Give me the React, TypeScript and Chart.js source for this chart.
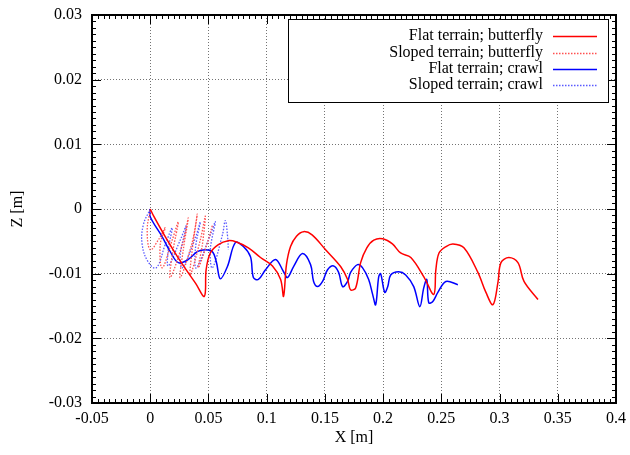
import React, { useEffect, useRef } from "react";
import { Chart, registerables } from "chart.js";

Chart.register(...registerables);

// Flat terrain; butterfly  [x (m), z (m)]
const flatButterflyX = [0, 0.003, 0.013, 0.026, 0.039, 0.0465, 0.048, 0.0516, 0.0585, 0.067, 0.074, 0.0843, 0.0947, 0.105, 0.112, 0.1145, 0.117, 0.1205, 0.1256, 0.1317, 0.139, 0.1506, 0.1635, 0.1695, 0.172, 0.1764, 0.1807, 0.186, 0.192, 0.1997, 0.208, 0.215, 0.2238, 0.235, 0.2435, 0.2453, 0.248, 0.254, 0.26, 0.2694, 0.2814, 0.2883, 0.2943, 0.2986, 0.3012, 0.308, 0.3158, 0.321, 0.333];
const flatButterflyZ = [0, -0.0011, -0.0043, -0.0081, -0.0115, -0.0135, -0.0094, -0.0068, -0.0055, -0.0049, -0.0051, -0.006, -0.0075, -0.0088, -0.0109, -0.0135, -0.0086, -0.0058, -0.0042, -0.0035, -0.004, -0.0063, -0.0089, -0.0109, -0.0125, -0.0122, -0.0083, -0.006, -0.0048, -0.0046, -0.0054, -0.0068, -0.0075, -0.0105, -0.0132, -0.0094, -0.0068, -0.0058, -0.0054, -0.006, -0.0098, -0.0129, -0.0148, -0.0114, -0.0083, -0.0075, -0.0083, -0.0112, -0.014];

// Sloped terrain; butterfly
const slopedButterflyX = [0, -0.0026, 0, 0.0069, 0.0129, 0.0086, 0.0103, 0.0189, 0.0241, 0.0189, 0.0172, 0.0275, 0.0327, 0.0284, 0.0258, 0.0361, 0.0404, 0.0361, 0.0344, 0.043, 0.0473, 0.0448, 0.0413, 0.0499, 0.0534];
const slopedButterflyZ = [-0.0002, -0.0032, -0.0063, -0.0048, -0.0029, -0.0055, -0.0091, -0.0048, -0.002, -0.0071, -0.0106, -0.0055, -0.0014, -0.0063, -0.0106, -0.0051, -0.0008, -0.0063, -0.0102, -0.0048, -0.0011, -0.0055, -0.0091, -0.0048, -0.0025];

// Flat terrain; crawl
const flatCrawlX = [0, 0, 0.0103, 0.0172, 0.0241, 0.0327, 0.0404, 0.0473, 0.0534, 0.0568, 0.0602, 0.0663, 0.0731, 0.08, 0.0861, 0.0886, 0.0929, 0.099, 0.1076, 0.1145, 0.1179, 0.1231, 0.1308, 0.1377, 0.1403, 0.1437, 0.148, 0.1523, 0.1575, 0.1618, 0.1652, 0.1695, 0.1721, 0.1781, 0.1824, 0.1876, 0.191, 0.1936, 0.1962, 0.1979, 0.2014, 0.204, 0.2065, 0.2134, 0.2194, 0.2263, 0.2315, 0.2349, 0.2375, 0.2392, 0.2427, 0.247, 0.2539, 0.2642];
const flatCrawlZ = [0, -0.0012, -0.0043, -0.0066, -0.0083, -0.0078, -0.0066, -0.0063, -0.0066, -0.0082, -0.0108, -0.0089, -0.0052, -0.0058, -0.0074, -0.0106, -0.0109, -0.0094, -0.0078, -0.0097, -0.0106, -0.0089, -0.0069, -0.0086, -0.0112, -0.012, -0.0112, -0.0094, -0.0088, -0.0098, -0.012, -0.0112, -0.0098, -0.0086, -0.0091, -0.0109, -0.0132, -0.0148, -0.0105, -0.01, -0.0129, -0.012, -0.0102, -0.0097, -0.0102, -0.012, -0.0151, -0.0122, -0.0109, -0.0145, -0.0143, -0.0129, -0.0112, -0.0117];

// Sloped terrain; crawl
const slopedCrawlX = [0, -0.006, -0.0069, -0.0017, 0.0052, 0.0129, 0.0189, 0.0155, 0.0155, 0.0258, 0.031, 0.0258, 0.0275, 0.0387, 0.043, 0.0387, 0.0396, 0.0516, 0.0559, 0.0516, 0.0534, 0.062, 0.0645, 0.0663, 0.0671];
const slopedCrawlZ = [0, -0.0025, -0.0055, -0.0082, -0.0091, -0.0055, -0.0029, -0.0063, -0.0088, -0.0048, -0.0026, -0.0071, -0.0091, -0.0045, -0.002, -0.0063, -0.0091, -0.004, -0.002, -0.0063, -0.0091, -0.004, -0.0018, -0.004, -0.0063];

const seriesLabels = ["Flat terrain; butterfly", "Sloped terrain; butterfly", "Flat terrain; crawl", "Sloped terrain; crawl"];
const xTitle = "X [m]";
const yTitle = "Z [m]";

const FONT = "'Liberation Serif', 'DejaVu Serif', serif";

function pts(xs: number[], ys: number[]) {
  return xs.map((x, i) => ({ x, y: ys[i] }));
}

const fmt = (v: number) => {
  const r = parseFloat(Number(v).toFixed(4));
  return r === 0 ? "0" : String(r);
};

export default function App() {
  const ref = useRef<HTMLCanvasElement | null>(null);

  useEffect(() => {
    document.body.style.margin = "0";
    const canvas = ref.current;
    if (!canvas) return;

    const framePlugin = {
      id: "frame",
      afterDraw(chart: any) {
        const ctx = chart.ctx;
        const { left, right, top, bottom } = chart.chartArea;
        const xs = chart.scales.x;
        const ys = chart.scales.y;
        ctx.save();
        ctx.strokeStyle = "#000";
        ctx.lineWidth = 1;
        ctx.beginPath();
        for (let i = 0; i <= 90; i++) {
          const v = -0.05 + i * 0.005;
          const px = Math.round(xs.getPixelForValue(v)) + 0.5;
          const len = i % 10 === 0 ? 9 : 4;
          ctx.moveTo(px, bottom);
          ctx.lineTo(px, bottom - len);
          ctx.moveTo(px, top);
          ctx.lineTo(px, top + len);
        }
        for (let i = 0; i <= 60; i++) {
          const v = -0.03 + i * 0.001;
          const py = Math.round(ys.getPixelForValue(v)) + 0.5;
          const len = i % 10 === 0 ? 9 : 4;
          ctx.moveTo(left, py);
          ctx.lineTo(left + len, py);
          ctx.moveTo(right, py);
          ctx.lineTo(right - len, py);
        }
        ctx.stroke();
        ctx.lineWidth = 2;
        ctx.strokeRect(left, top, right - left, bottom - top);

        ctx.fillStyle = "#000";
        ctx.font = `16px ${FONT}`;
        ctx.textAlign = "center";
        ctx.textBaseline = "middle";
        ctx.fillText(xTitle, (left + right) / 2, 438);
        ctx.save();
        ctx.translate(18, (top + bottom) / 2);
        ctx.rotate(-Math.PI / 2);
        ctx.fillText(yTitle, 0, 0);
        ctx.restore();

        // legend
        const bx = 288, by = 19, bw = 320, bh = 83;
        ctx.fillStyle = "#fff";
        ctx.fillRect(bx, by, bw, bh);
        ctx.lineWidth = 1;
        ctx.strokeStyle = "#000";
        ctx.strokeRect(bx + 0.5, by + 0.5, bw, bh);
        const rows = [36, 53, 69, 85];
        chart.data.datasets.forEach((ds: any, i: number) => {
          const y = rows[i];
          ctx.fillStyle = "#000";
          ctx.textAlign = "right";
          ctx.textBaseline = "middle";
          ctx.fillText(ds.label, 543, y);
          ctx.strokeStyle = ds.borderColor;
          ctx.lineWidth = ds.borderWidth;
          ctx.setLineDash(ds.borderDash || []);
          ctx.beginPath();
          ctx.moveTo(553, y + 0.5);
          ctx.lineTo(597, y + 0.5);
          ctx.stroke();
          ctx.setLineDash([]);
        });
        ctx.restore();
      },
    };

    const chart = new Chart(canvas, {
      type: "line",
      data: {
        datasets: [
          {
            label: seriesLabels[0],
            data: pts(flatButterflyX, flatButterflyZ),
            borderColor: "#ff0000",
            borderWidth: 1.5,
            pointRadius: 0,
            tension: 0.35,
            fill: false,
          },
          {
            label: seriesLabels[1],
            data: pts(slopedButterflyX, slopedButterflyZ),
            borderColor: "#ff5050",
            borderWidth: 1.3,
            borderDash: [1.5, 1.5],
            pointRadius: 0,
            tension: 0.4,
            fill: false,
          },
          {
            label: seriesLabels[2],
            data: pts(flatCrawlX, flatCrawlZ),
            borderColor: "#0000ff",
            borderWidth: 1.5,
            pointRadius: 0,
            tension: 0.35,
            fill: false,
          },
          {
            label: seriesLabels[3],
            data: pts(slopedCrawlX, slopedCrawlZ),
            borderColor: "#5a5aff",
            borderWidth: 1.3,
            borderDash: [1.5, 1.5],
            pointRadius: 0,
            tension: 0.4,
            fill: false,
          },
        ],
      },
      options: {
        responsive: false,
        animation: false,
        layout: { padding: { top: 15, right: 14, left: 0, bottom: 0 } },
        plugins: { legend: { display: false }, tooltip: { enabled: false } },
        scales: {
          x: {
            type: "linear",
            min: -0.05,
            max: 0.4,
            afterFit: (s: any) => {
              s.height = 52;
            },
            ticks: {
              stepSize: 0.05,
              color: "#000",
              font: { family: FONT, size: 16 },
              padding: 0,
              maxRotation: 0,
              autoSkip: false,
              callback: (v: any) => fmt(v),
            },
            grid: { color: "rgba(0,0,0,0.55)", lineWidth: 1, drawTicks: true, tickLength: 6, tickColor: "rgba(0,0,0,0)" },
            border: { display: false, dash: [1, 2] },
          },
          y: {
            type: "linear",
            min: -0.03,
            max: 0.03,
            afterFit: (s: any) => {
              s.width = 92;
            },
            ticks: {
              stepSize: 0.01,
              color: "#000",
              font: { family: FONT, size: 16 },
              padding: 2,
              autoSkip: false,
              callback: (v: any) => fmt(v),
            },
            grid: { color: "rgba(0,0,0,0.55)", lineWidth: 1, drawTicks: true, tickLength: 8, tickColor: "rgba(0,0,0,0)" },
            border: { display: false, dash: [1, 2] },
          },
        },
      },
      plugins: [framePlugin],
    } as any);

    return () => chart.destroy();
  }, []);

  return (
    <div style={{ width: 630, height: 455 }}>
      <canvas ref={ref} width={630} height={455} style={{ display: "block" }} />
    </div>
  );
}
